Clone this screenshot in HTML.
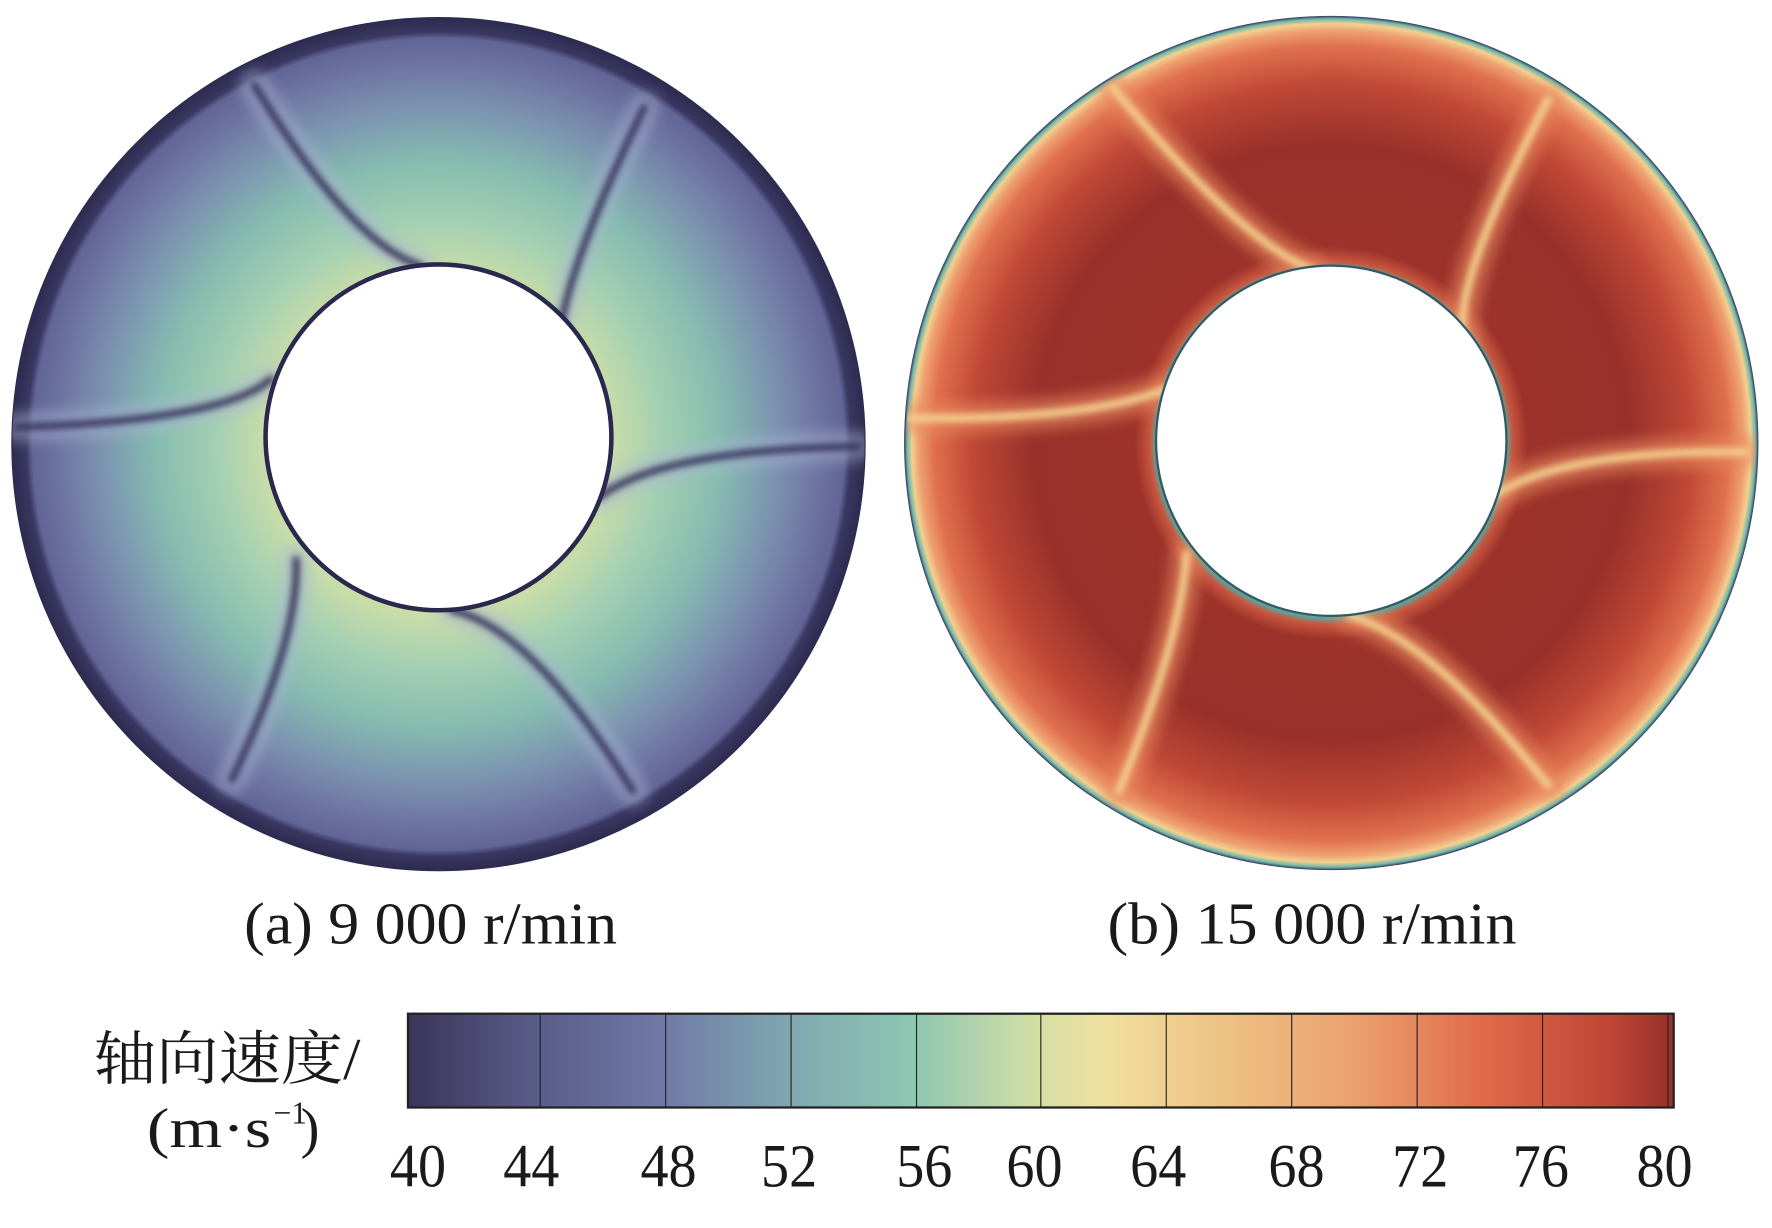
<!DOCTYPE html>
<html><head><meta charset="utf-8">
<style>
html,body{margin:0;padding:0;background:#fff;}
svg{display:block;}
text{font-family:"Liberation Serif","Noto Serif CJK SC",serif;fill:#1a1a1a;}
</style></head>
<body>
<svg width="1772" height="1228" viewBox="0 0 1772 1228" xmlns="http://www.w3.org/2000/svg">
<defs>
  <radialGradient id="gL" gradientUnits="userSpaceOnUse" cx="388" cy="393" r="378">
    <stop offset="0.40" stop-color="#cadda8"/>
    <stop offset="0.52" stop-color="#a4d0b2"/>
    <stop offset="0.66" stop-color="#86bcb0"/>
    <stop offset="0.78" stop-color="#7c96b0"/>
    <stop offset="0.88" stop-color="#7077a4"/>
    <stop offset="0.95" stop-color="#626596"/>
    <stop offset="0.965" stop-color="#3a3862"/>
    <stop offset="1" stop-color="#2c2a4e"/>
  </radialGradient>
  <radialGradient id="gR" gradientUnits="userSpaceOnUse" cx="1178" cy="392" r="378">
    <stop offset="0.41" stop-color="#5fa39a"/>
    <stop offset="0.425" stop-color="#c8563f"/>
    <stop offset="0.46" stop-color="#9c322a"/>
    <stop offset="0.70" stop-color="#99312a"/>
    <stop offset="0.84" stop-color="#c04836"/>
    <stop offset="0.93" stop-color="#e0704e"/>
    <stop offset="0.965" stop-color="#eea070"/>
    <stop offset="0.982" stop-color="#f2d090"/>
    <stop offset="0.993" stop-color="#6fb8aa"/>
    <stop offset="1" stop-color="#34335a"/>
  </radialGradient>
  <linearGradient id="cb" x1="0" x2="1" y1="0" y2="0">
    <stop offset="0" stop-color="#3a3458"/>
    <stop offset="0.1" stop-color="#5a5c88"/>
    <stop offset="0.2" stop-color="#7079a6"/>
    <stop offset="0.3" stop-color="#7fa7b0"/>
    <stop offset="0.4" stop-color="#8ec7b2"/>
    <stop offset="0.5" stop-color="#d6dfa5"/>
    <stop offset="0.55" stop-color="#f0e0a0"/>
    <stop offset="0.65" stop-color="#eec082"/>
    <stop offset="0.75" stop-color="#eba06e"/>
    <stop offset="0.85" stop-color="#e06a4a"/>
    <stop offset="0.95" stop-color="#bf4535"/>
    <stop offset="1" stop-color="#98302a"/>
  </linearGradient>
  <filter id="bl" x="-20%" y="-20%" width="140%" height="140%"><feGaussianBlur stdDeviation="3"/></filter>
  <filter id="bl2" x="-20%" y="-20%" width="140%" height="140%"><feGaussianBlur stdDeviation="6"/></filter>
  <clipPath id="cL"><circle cx="388" cy="393" r="377"/></clipPath>
  <clipPath id="cR"><circle cx="1178" cy="392" r="376"/></clipPath>
</defs>
<g transform="scale(1.1301)">
  <circle cx="388" cy="393" r="378" fill="url(#gL)"/>
  <g clip-path="url(#cL)" fill="none" stroke-linecap="round">
    <g stroke="#a9b5d2" stroke-width="26" opacity="0.5" filter="url(#bl2)">
      <path d="M372,235 Q310,215 225,75"/><path d="M495,300 Q500,240 570,95"/>
      <path d="M530,440 Q585,398 760,395"/><path d="M400,540 Q470,555 560,700"/>
      <path d="M262,495 Q265,565 205,690"/><path d="M240,335 Q200,372 15,378"/>
    </g>
    <g stroke="#34325a" stroke-width="6" filter="url(#bl)">
      <path d="M372,235 Q310,215 225,75"/><path d="M495,300 Q500,240 570,95"/>
      <path d="M530,440 Q585,398 760,395"/><path d="M400,540 Q470,555 560,700"/>
      <path d="M262,495 Q265,565 205,690"/><path d="M240,335 Q200,372 15,378"/>
    </g>
  </g>
  <circle cx="388" cy="387" r="153" fill="#fff" stroke="#2a284c" stroke-width="4"/>

  <circle cx="1178" cy="392" r="378" fill="url(#gR)"/>
  <g clip-path="url(#cR)" fill="none" stroke-linecap="round">
    <g stroke="#e98a5e" stroke-width="28" opacity="0.6" filter="url(#bl2)">
      <path d="M1160,238 Q1100,215 985,78"/><path d="M1295,300 Q1285,250 1370,88"/>
      <path d="M1320,440 Q1380,398 1545,400"/><path d="M1195,545 Q1265,565 1370,695"/>
      <path d="M1050,490 Q1045,565 990,700"/><path d="M1030,345 Q960,372 805,370"/>
    </g>
    <g stroke="#f4d08e" stroke-width="7" filter="url(#bl)">
      <path d="M1160,238 Q1100,215 985,78"/><path d="M1295,300 Q1285,250 1370,88"/>
      <path d="M1320,440 Q1380,398 1545,400"/><path d="M1195,545 Q1265,565 1370,695"/>
      <path d="M1050,490 Q1045,565 990,700"/><path d="M1030,345 Q960,372 805,370"/>
    </g>
  </g>
  <circle cx="1178" cy="390" r="155" fill="#fff" stroke="#2f5a66" stroke-width="2"/>

  <text x="381" y="835" font-size="52" text-anchor="middle" textLength="330" lengthAdjust="spacingAndGlyphs">(a) 9 000 r/min</text>
  <text x="1161" y="835" font-size="52" text-anchor="middle" textLength="362" lengthAdjust="spacingAndGlyphs">(b) 15 000 r/min</text>

  <rect x="361" y="897" width="1120" height="83" fill="url(#cb)" stroke="#222" stroke-width="2"/>
  <g stroke="#222" stroke-width="1">
    <line x1="478" y1="897" x2="478" y2="980"/><line x1="589" y1="897" x2="589" y2="980"/>
    <line x1="700" y1="897" x2="700" y2="980"/><line x1="811" y1="897" x2="811" y2="980"/>
    <line x1="921" y1="897" x2="921" y2="980"/><line x1="1032" y1="897" x2="1032" y2="980"/>
    <line x1="1143" y1="897" x2="1143" y2="980"/><line x1="1254" y1="897" x2="1254" y2="980"/>
    <line x1="1365" y1="897" x2="1365" y2="980"/><line x1="1476" y1="897" x2="1476" y2="980"/>
  </g>
  <g font-size="54" text-anchor="middle" transform="scale(0.92,1)">
    <text x="402" y="1050">40</text><text x="511" y="1050">44</text>
    <text x="643" y="1050">48</text><text x="759" y="1050">52</text>
    <text x="889" y="1050">56</text><text x="995" y="1050">60</text>
    <text x="1114" y="1050">64</text><text x="1247" y="1050">68</text>
    <text x="1366" y="1050">72</text><text x="1482" y="1050">76</text>
    <text x="1601" y="1050">80</text>
  </g>
  <text x="83" y="955" font-size="52" textLength="236" lengthAdjust="spacingAndGlyphs">轴向速度/</text>
  <text x="130" y="1015" font-size="50" textLength="110" lengthAdjust="spacingAndGlyphs">(m·s</text>
  <text x="242" y="994" font-size="28">−1</text>
  <text x="266" y="1015" font-size="50">)</text>
</g>
</svg>
</body></html>
